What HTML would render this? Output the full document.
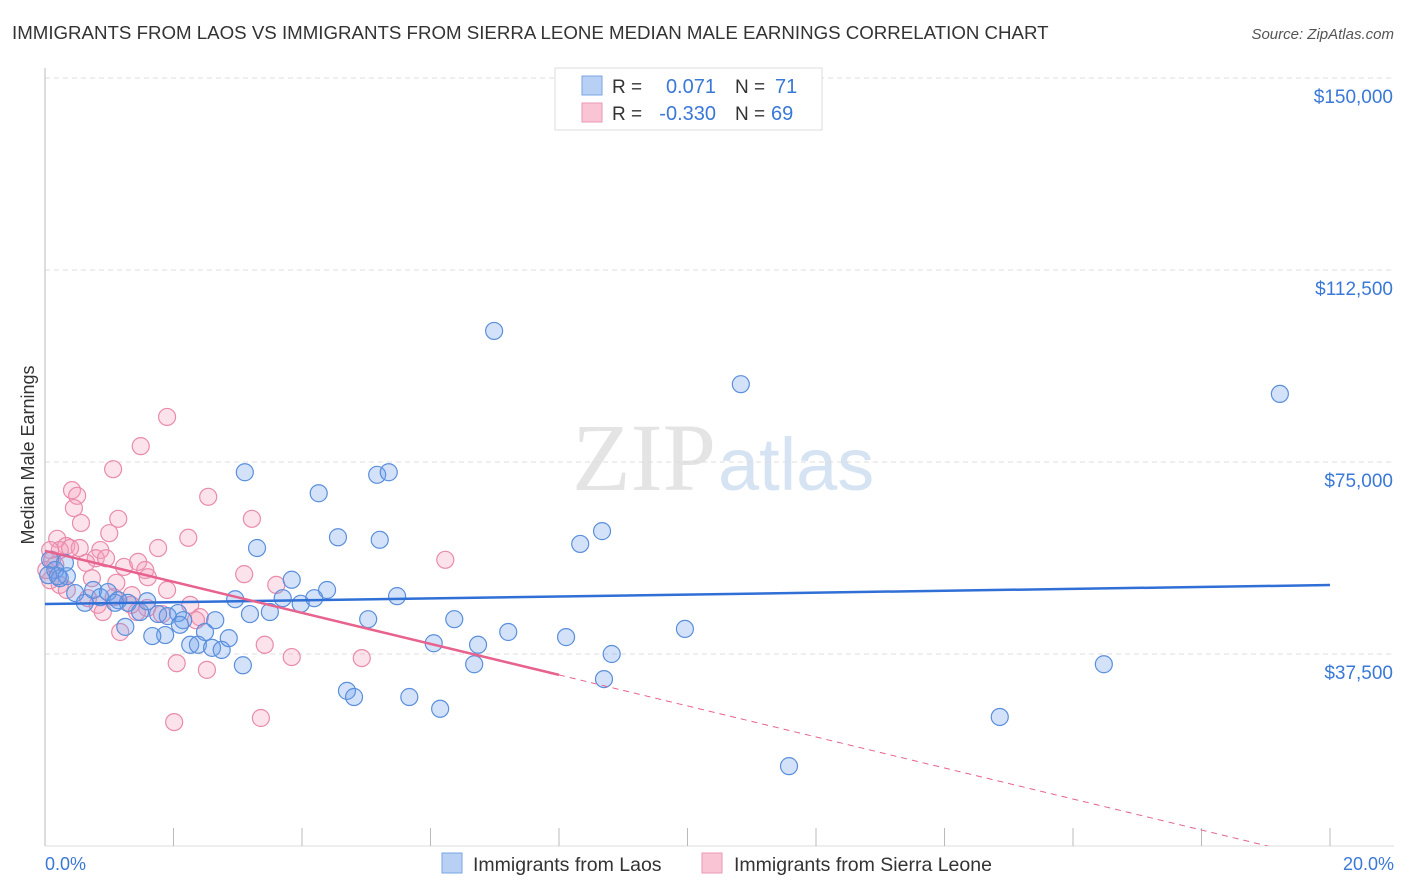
<!DOCTYPE html>
<html><head><meta charset="utf-8"><style>
body{margin:0;background:#fff;font-family:"Liberation Sans",sans-serif;}
svg{display:block}
</style></head><body>
<svg id="chart" width="1406" height="892" xmlns="http://www.w3.org/2000/svg">
<defs><clipPath id="plotclip"><rect x="45" y="60" width="1360" height="786"/></clipPath></defs>
<text x="12" y="39" font-size="18.7" fill="#333">IMMIGRANTS FROM LAOS VS IMMIGRANTS FROM SIERRA LEONE MEDIAN MALE EARNINGS CORRELATION CHART</text>
<text x="1394" y="39" font-size="15" fill="#555" font-style="italic" text-anchor="end">Source: ZipAtlas.com</text>
<text x="716" y="490" font-size="96" fill="#e4e4e4" font-family="Liberation Serif,serif" text-anchor="end">ZIP</text>
<text x="718" y="490" font-size="74" fill="#d6e3f3" text-anchor="start">atlas</text>
<g id="grid"></g>
<g id="axes"></g>
<g id="pts"></g>
<g id="trend" clip-path="url(#plotclip)"></g>
<text transform="translate(34,455) rotate(-90)" font-size="18" fill="#333" text-anchor="middle">Median Male Earnings</text>
<text x="45" y="870" font-size="18" fill="#3a78d8">0.0%</text>
<text x="1394" y="870" font-size="18" fill="#3a78d8" text-anchor="end">20.0%</text>
<g>
<rect x="555" y="68" width="267" height="62" fill="#fff" stroke="#ddd"/>
<rect x="582" y="76" width="20" height="19" fill="#b8d0f3" stroke="#7aa6e6"/>
<rect x="582" y="103" width="20" height="19" fill="#f9c4d4" stroke="#ec97b4"/>
<text x="612" y="93" font-size="19" fill="#333">R =</text>
<text x="716" y="93" font-size="20" fill="#3a78d8" text-anchor="end">0.071</text>
<text x="735" y="93" font-size="19" fill="#333">N =</text>
<text x="775" y="93" font-size="20" fill="#3a78d8">71</text>
<text x="612" y="120" font-size="19" fill="#333">R =</text>
<text x="716" y="120" font-size="20" fill="#3a78d8" text-anchor="end">-0.330</text>
<text x="735" y="120" font-size="19" fill="#333">N =</text>
<text x="771" y="120" font-size="20" fill="#3a78d8">69</text>
</g>
<g>
<rect x="442" y="853" width="20" height="20" fill="#b8d0f3" stroke="#7aa6e6"/>
<text x="473" y="871" font-size="19.5" fill="#333">Immigrants from Laos</text>
<rect x="702" y="853" width="20" height="20" fill="#f9c4d4" stroke="#ec97b4"/>
<text x="734" y="871" font-size="19.5" fill="#333">Immigrants from Sierra Leone</text>
</g>
</svg>
<script>
const blueX=[6.99,10.83,19.22,3.11,5.17,5.35,4.26,4.56,5.21,3.30,8.67,8.33,3.84,4.39,5.48,3.70,4.19,2.96,3.50,3.19,3.98,5.03,6.37,7.21,8.11,9.96,6.05,6.74,8.82,6.68,3.08,4.70,4.81,5.67,6.15,8.70,16.48,14.86,11.58,0.08,0.16,0.23,0.34,0.05,0.47,0.62,0.75,0.86,0.98,1.14,1.29,1.48,1.59,1.76,1.87,2.07,2.15,2.26,2.38,2.49,2.60,2.65,2.75,2.86,1.25,1.67,1.91,2.10,1.09,0.31,0.20];
const blueY=[100.6,90.2,88.3,73.0,72.5,73.0,68.9,60.3,59.8,58.2,61.5,59.0,52.0,50.0,48.8,48.4,48.4,48.2,45.7,45.3,47.3,44.3,44.3,41.8,40.8,42.4,39.6,39.3,37.5,35.5,35.3,30.3,29.1,29.1,26.8,32.6,35.5,25.2,15.6,55.9,53.9,52.3,52.7,52.9,49.4,47.5,50.0,48.6,49.6,48.0,47.5,45.7,47.8,45.3,41.2,45.5,44.1,39.3,39.3,41.8,38.7,44.1,38.3,40.6,42.8,41.0,44.9,43.2,47.5,55.3,52.7];
const pinkX=[1.90,1.49,1.06,0.42,0.50,0.45,2.54,1.14,3.22,0.56,0.19,0.33,0.54,1.00,1.76,2.23,6.23,0.23,0.39,0.86,0.79,0.64,0.95,1.23,1.45,1.56,3.10,3.60,1.11,1.60,0.08,0.23,0.02,0.16,0.08,0.67,0.82,0.90,1.07,1.35,1.59,1.43,1.90,1.82,2.26,2.41,1.17,3.42,3.84,4.93,2.05,2.52,3.36,2.01,0.11,0.34,0.73,1.34,2.35];
const pinkY=[83.8,78.1,73.6,69.5,68.4,66.0,68.2,63.9,63.9,63.1,60.0,58.6,58.2,61.1,58.2,60.2,55.9,57.8,58.2,57.8,56.2,55.3,56.2,54.5,55.5,53.9,53.1,51.0,51.4,52.5,51.9,51.0,53.9,54.9,57.8,48.4,47.1,45.7,48.6,49.0,46.5,45.7,50.0,45.3,47.1,44.7,41.8,39.3,36.9,36.7,35.7,34.4,25.0,24.2,55.9,50.0,52.3,47.1,44.1];
const yTicks=[37.5,75,112.5,150];
const yTickLabels=["$37,500","$75,000","$112,500","$150,000"];
const xTicks=[0,2,4,6,8,10,12,14,16,18,20];
const NS="http://www.w3.org/2000/svg";
const X0=45,X1=1330,Y0=846,PXK=768/150;
function sx(v){return X0+(X1-X0)*v/20;}
function sy(v){return Y0-v*PXK;}
function mk(t,a,p){const e=document.createElementNS(NS,t);for(const k in a)e.setAttribute(k,a[k]);p.appendChild(e);return e;}
const grid=document.getElementById('grid'),axes=document.getElementById('axes'),pts=document.getElementById('pts'),tr=document.getElementById('trend');
yTicks.forEach((v,i)=>{
 const l=mk('line',{x1:X0,x2:1394,y1:sy(v),y2:sy(v),stroke:'#dcdcdc','stroke-dasharray':'5,4'},grid);
 
 
 const t=mk('text',{x:1393,y:sy(v)+25,'font-size':19,fill:'#3a78d8','text-anchor':'end'},grid);
 t.textContent=yTickLabels[i];
 
 
});
const la=mk('line',{x1:X0,x2:X0,y1:68,y2:Y0,stroke:'#bbb'},axes);


const lb=mk('line',{x1:X0,x2:1394,y1:Y0,y2:Y0,stroke:'#ddd'},axes);


xTicks.forEach(v=>{
 const t=mk('line',{x1:sx(v),x2:sx(v),y1:828,y2:Y0,stroke:'#bbb'},axes);
 
 
});
function dots(xs,ys,fill,stroke,name){
 xs.forEach((x,i)=>{
  const c=mk('circle',{cx:sx(x),cy:sy(ys[i]),r:8.5,fill:fill,stroke:stroke,'stroke-width':1.2},pts);
  
  
 });
}
dots(pinkX,pinkY,'rgba(244,160,188,0.3)','#e98bab','sierra-leone-point');
dots(blueX,blueY,'rgba(110,160,235,0.3)','#5a8fdc','laos-point');
function fit(xs,ys){const n=xs.length;let mx=0,my=0;xs.forEach((x,i)=>{mx+=x;my+=ys[i]});mx/=n;my/=n;let sxy=0,sxx=0;xs.forEach((x,i)=>{sxy+=(x-mx)*(ys[i]-my);sxx+=(x-mx)*(x-mx)});const b=sxy/sxx;return[my-b*mx,b];}
const fb=fit(blueX,blueY),fp=fit(pinkX,pinkY);
const bl=mk('line',{x1:sx(0),y1:sy(fb[0]),x2:sx(20),y2:sy(fb[0]+fb[1]*20),stroke:'#2f6fd6','stroke-width':2.5},tr);


const pEnd=8;
const pl=mk('line',{x1:sx(0),y1:sy(fp[0]),x2:sx(pEnd),y2:sy(fp[0]+fp[1]*pEnd),stroke:'#e8628e','stroke-width':2.5},tr);


const pd=mk('line',{x1:sx(pEnd),y1:sy(fp[0]+fp[1]*pEnd),x2:sx(20),y2:sy(fp[0]+fp[1]*20),stroke:'#e8628e','stroke-width':1,'stroke-dasharray':'6,5'},tr);


</script>
</body></html>
